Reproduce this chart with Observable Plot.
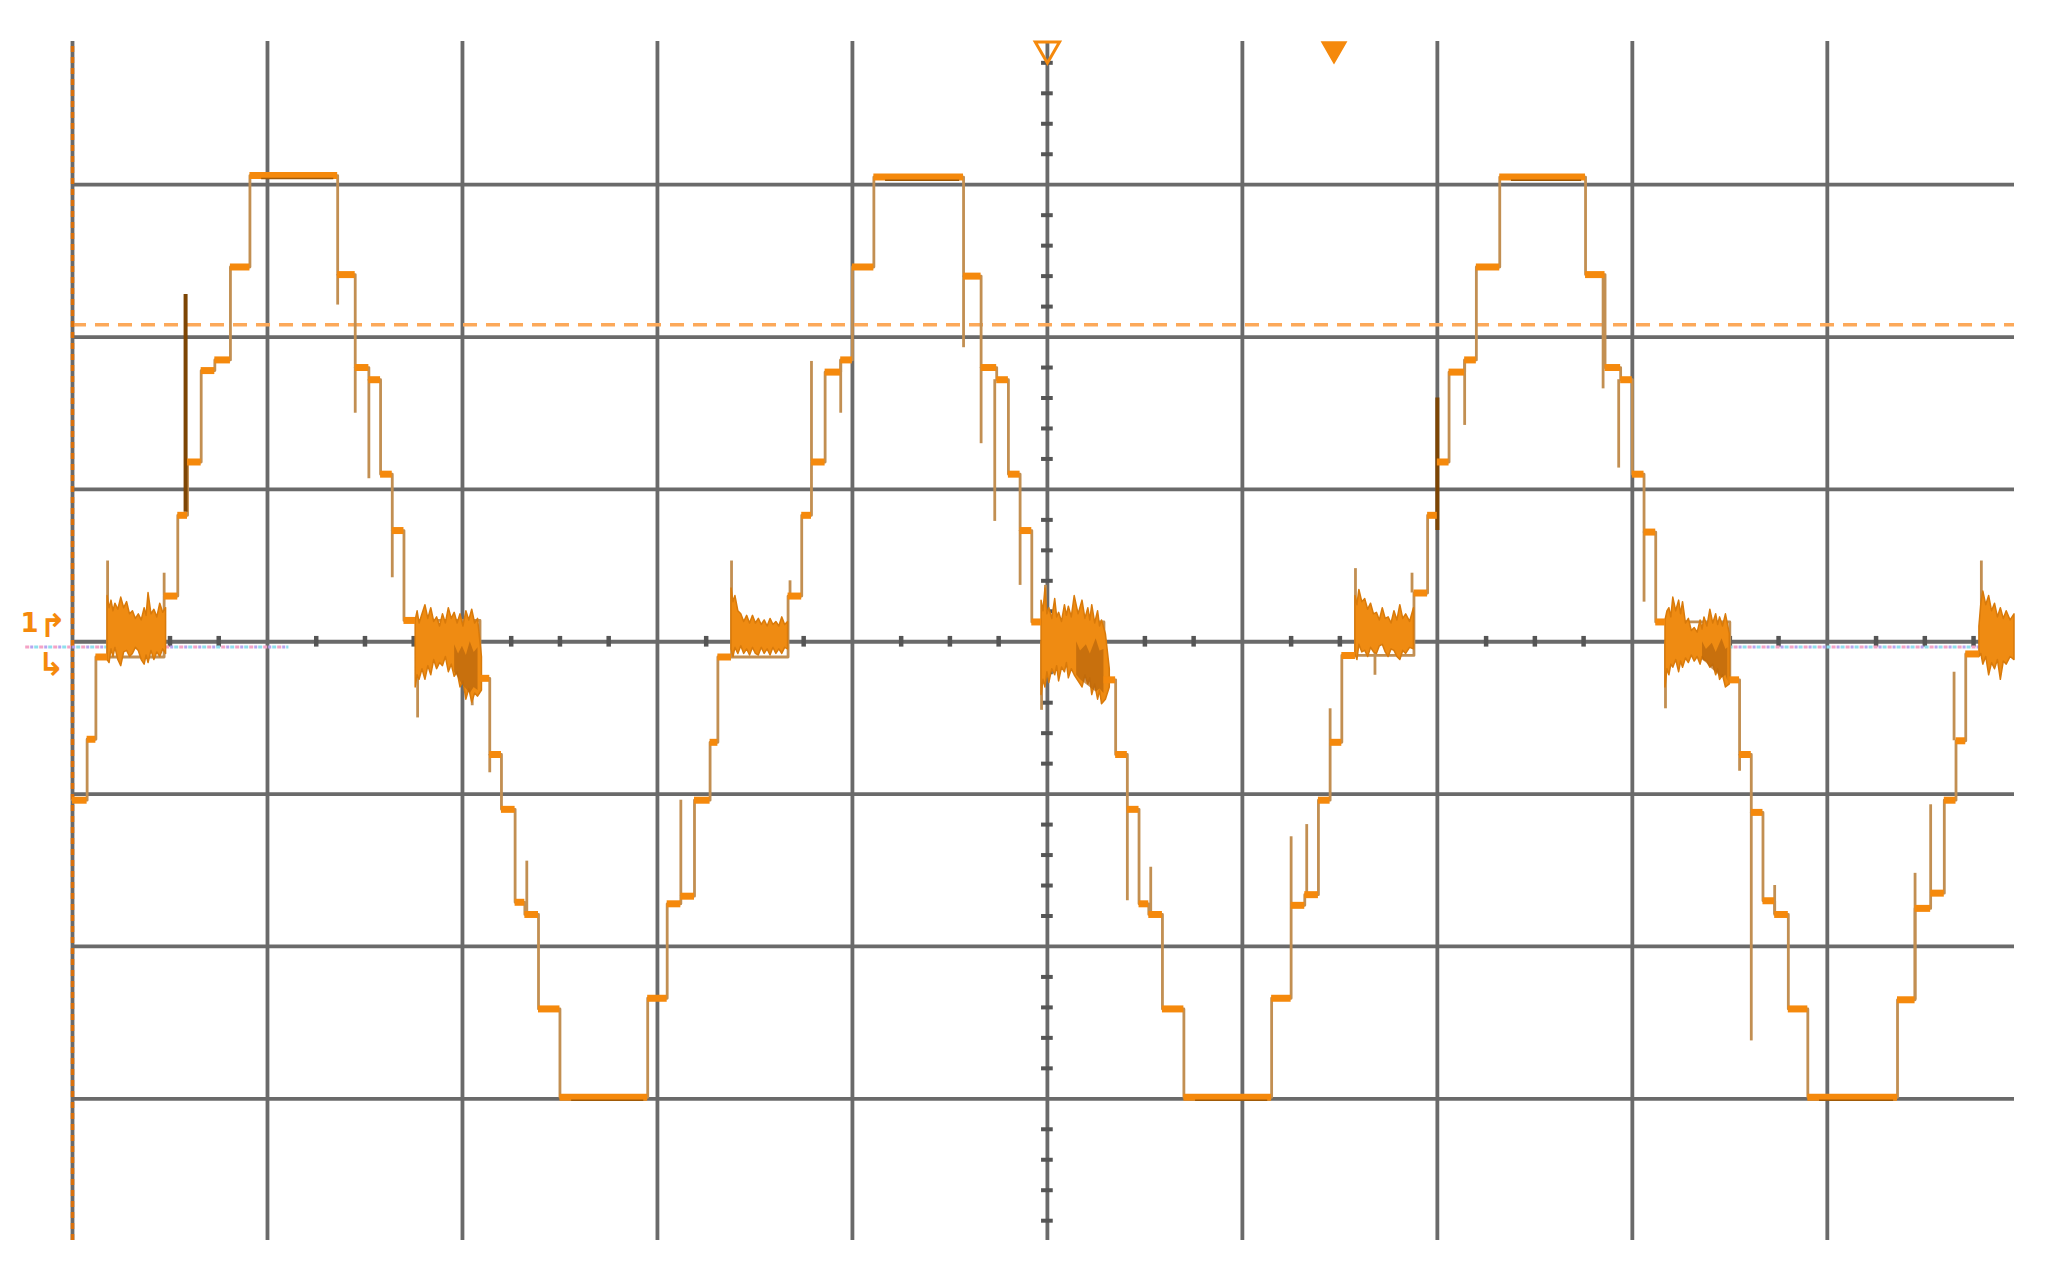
<!DOCTYPE html>
<html><head><meta charset="utf-8">
<script src="https://cdn.jsdelivr.net/npm/d3@7"></script>
<script src="https://cdn.jsdelivr.net/npm/@observablehq/plot@0.6"></script>
<style>html,body{margin:0;padding:0;background:#fff;overflow:hidden}</style>
</head><body><div id="chart"></div>
<script>
// Oscilloscope screen: x in divisions (0..10), y in divisions (-4..4)
const xGridLines = [0,1,2,3,4,5,6,7,8,9];
const yGridLines = [-3,-2,-1,0,1,2,3];
const triggerLevel = 2.08;

// Dwell segments [x start, x end, level] read per half-cycle
const stepsStart = [[0.00,0.075,-1.04],[0.075,0.12,-0.64],[0.12,0.18,-0.10]];
const stepsPos1 = [[0.47,0.54,0.30],[0.54,0.59,0.83],[0.59,0.66,1.18],[0.66,0.73,1.78],[0.73,0.81,1.85],[0.81,0.91,2.46],[0.91,1.36,3.06],[1.36,1.45,2.41],[1.45,1.52,1.80],[1.52,1.58,1.72],[1.58,1.64,1.10],[1.64,1.70,0.73],[1.70,1.76,0.14]];
const stepsNeg1 = [[2.09,2.14,-0.24],[2.14,2.20,-0.74],[2.20,2.27,-1.10],[2.27,2.32,-1.71],[2.32,2.39,-1.79],[2.39,2.50,-2.41],[2.50,2.95,-2.99],[2.95,3.05,-2.34],[3.05,3.12,-1.72],[3.12,3.19,-1.67],[3.19,3.27,-1.04],[3.27,3.31,-0.66],[3.31,3.38,-0.10]];
const stepsPos2 = [[3.67,3.74,0.30],[3.74,3.79,0.83],[3.79,3.86,1.18],[3.86,3.94,1.77],[3.94,4.00,1.85],[4.00,4.11,2.46],[4.11,4.57,3.05],[4.57,4.66,2.40],[4.66,4.74,1.80],[4.74,4.80,1.72],[4.80,4.86,1.10],[4.86,4.92,0.73],[4.92,4.97,0.13]];
const stepsNeg2 = [[5.29,5.35,-0.25],[5.35,5.41,-0.74],[5.41,5.47,-1.10],[5.47,5.52,-1.72],[5.52,5.59,-1.79],[5.59,5.70,-2.41],[5.70,6.15,-2.99],[6.15,6.25,-2.34],[6.25,6.32,-1.73],[6.32,6.39,-1.66],[6.39,6.45,-1.04],[6.45,6.51,-0.66],[6.51,6.58,-0.09]];
const stepsPos3 = [[6.88,6.95,0.32],[6.95,7.00,0.83],[7.00,7.06,1.18],[7.06,7.14,1.77],[7.14,7.20,1.85],[7.20,7.32,2.46],[7.32,7.76,3.05],[7.76,7.86,2.41],[7.86,7.94,1.80],[7.94,8.00,1.72],[8.00,8.06,1.10],[8.06,8.12,0.72],[8.12,8.17,0.13]];
const stepsNeg3 = [[8.50,8.55,-0.25],[8.55,8.61,-0.74],[8.61,8.67,-1.12],[8.67,8.73,-1.70],[8.73,8.80,-1.79],[8.80,8.90,-2.41],[8.90,9.36,-2.99],[9.36,9.45,-2.35],[9.45,9.53,-1.75],[9.53,9.60,-1.65],[9.60,9.66,-1.04],[9.66,9.71,-0.65],[9.71,9.78,-0.08]];

// Noisy bands at the zero crossings [x, top, bottom]
const clusterA = [[0.18,0.30,-0.12],[0.19,0.22,-0.14],[0.20,0.27,-0.05],[0.21,0.20,-0.10],[0.22,0.25,-0.04],[0.235,0.21,-0.12],[0.25,0.29,-0.16],[0.265,0.22,-0.07],[0.28,0.26,-0.06],[0.295,0.18,-0.10],[0.31,0.20,-0.08],[0.325,0.15,-0.04],[0.34,0.18,-0.06],[0.355,0.14,-0.12],[0.37,0.22,-0.15],[0.38,0.17,-0.09],[0.39,0.32,-0.14],[0.405,0.18,-0.06],[0.42,0.21,-0.12],[0.435,0.16,-0.07],[0.45,0.25,-0.10],[0.465,0.19,-0.05],[0.48,0.22,-0.08]];
const clusterB = [[1.76,0.14,-0.30],[1.77,0.20,-0.22],[1.78,0.12,-0.25],[1.795,0.18,-0.18],[1.81,0.24,-0.25],[1.825,0.15,-0.16],[1.84,0.22,-0.22],[1.855,0.13,-0.12],[1.87,0.16,-0.18],[1.885,0.10,-0.14],[1.90,0.18,-0.16],[1.915,0.12,-0.10],[1.93,0.22,-0.20],[1.945,0.15,-0.15],[1.96,0.19,-0.23],[1.975,0.12,-0.20],[1.99,0.18,-0.30],[2.005,0.10,-0.26],[2.02,0.20,-0.38],[2.035,0.14,-0.31],[2.05,0.21,-0.40],[2.065,0.12,-0.34],[2.08,0.15,-0.36],[2.10,-0.10,-0.32]];
const clusterC = [[3.38,0.35,-0.05],[3.39,0.26,-0.10],[3.40,0.30,-0.04],[3.415,0.20,-0.08],[3.43,0.18,-0.03],[3.445,0.13,-0.08],[3.46,0.17,-0.05],[3.475,0.12,-0.09],[3.49,0.17,-0.04],[3.505,0.12,-0.08],[3.52,0.15,-0.09],[3.535,0.11,-0.04],[3.55,0.14,-0.08],[3.565,0.10,-0.05],[3.58,0.15,-0.09],[3.595,0.11,-0.04],[3.61,0.13,-0.08],[3.625,0.10,-0.05],[3.64,0.16,-0.08],[3.655,0.11,-0.04],[3.67,0.13,-0.05]];
const clusterD = [[4.97,0.27,-0.35],[4.98,0.20,-0.25],[4.99,0.35,-0.30],[5.00,0.18,-0.20],[5.01,0.22,-0.27],[5.025,0.15,-0.18],[5.04,0.28,-0.22],[5.05,0.16,-0.16],[5.06,0.19,-0.26],[5.075,0.13,-0.17],[5.09,0.24,-0.20],[5.10,0.17,-0.14],[5.11,0.23,-0.24],[5.125,0.16,-0.18],[5.14,0.30,-0.22],[5.16,0.18,-0.26],[5.18,0.27,-0.30],[5.195,0.15,-0.22],[5.21,0.22,-0.28],[5.22,0.14,-0.24],[5.23,0.24,-0.35],[5.245,0.12,-0.28],[5.26,0.20,-0.38],[5.27,0.10,-0.32],[5.28,0.14,-0.41],[5.30,0.05,-0.38],[5.32,-0.18,-0.30]];
const clusterE = [[6.58,0.30,-0.08],[6.59,0.24,-0.12],[6.60,0.34,-0.02],[6.615,0.26,-0.07],[6.63,0.28,-0.06],[6.645,0.21,-0.10],[6.66,0.25,-0.04],[6.675,0.18,-0.07],[6.69,0.19,-0.08],[6.705,0.14,-0.03],[6.72,0.22,-0.02],[6.735,0.15,-0.07],[6.75,0.16,-0.10],[6.765,0.12,-0.05],[6.78,0.20,-0.06],[6.795,0.14,-0.10],[6.81,0.24,-0.12],[6.825,0.15,-0.06],[6.84,0.18,-0.08],[6.86,0.13,-0.04],[6.88,0.22,-0.05]];
const clusterF = [[8.17,0.14,-0.30],[8.18,0.20,-0.18],[8.19,0.22,-0.22],[8.20,0.16,-0.15],[8.21,0.29,-0.17],[8.225,0.20,-0.12],[8.24,0.27,-0.20],[8.25,0.18,-0.13],[8.26,0.26,-0.17],[8.275,0.12,-0.11],[8.29,0.15,-0.14],[8.305,0.07,-0.09],[8.32,0.09,-0.13],[8.335,0.06,-0.10],[8.35,0.14,-0.15],[8.36,0.08,-0.10],[8.37,0.16,-0.12],[8.385,0.10,-0.13],[8.40,0.21,-0.17],[8.415,0.12,-0.15],[8.43,0.18,-0.22],[8.44,0.11,-0.18],[8.45,0.16,-0.25],[8.465,0.10,-0.22],[8.48,0.18,-0.30],[8.50,0.05,-0.28]];
const clusterG = [[9.78,0.10,-0.10],[9.79,0.25,-0.08],[9.80,0.33,-0.15],[9.815,0.24,-0.10],[9.83,0.30,-0.22],[9.845,0.20,-0.14],[9.86,0.25,-0.18],[9.875,0.16,-0.12],[9.89,0.22,-0.25],[9.905,0.15,-0.13],[9.92,0.20,-0.15],[9.94,0.14,-0.10],[9.96,0.18,-0.12]];
// darker cores of the falling crossings [x, top, bottom]
const coreB = [[1.96,-0.02,-0.20],[1.98,-0.08,-0.24],[2.00,-0.03,-0.28],[2.02,-0.09,-0.31],[2.04,0.00,-0.34],[2.06,-0.07,-0.30],[2.08,-0.04,-0.32]];
const coreD = [[5.15,0.00,-0.22],[5.17,-0.06,-0.25],[5.20,-0.02,-0.28],[5.22,-0.08,-0.30],[5.25,0.02,-0.33],[5.27,-0.06,-0.31],[5.29,-0.05,-0.34]];
const coreF = [[8.36,0.00,-0.12],[8.38,-0.05,-0.14],[8.41,-0.01,-0.18],[8.43,-0.07,-0.20],[8.46,0.02,-0.24],[8.48,-0.05,-0.22],[8.49,-0.04,-0.26]];

// Switching spikes [x, from, to]
const spikes = [[0.18,-0.10,0.53],[0.47,0.30,0.45],[1.36,2.41,2.21],[1.45,1.80,1.50],[1.52,1.72,1.07],[1.64,0.73,0.42],[1.77,0.00,-0.50],[2.05,-0.2,-0.42],[2.14,-0.74,-0.86],[2.33,-1.79,-1.44],[3.12,-1.67,-1.04],
  [3.38,-0.10,0.53],[3.68,0.30,0.40],[3.79,1.18,1.84],[3.94,1.85,1.50],[4.57,2.40,1.93],[4.66,1.80,1.30],[4.73,1.72,0.79],[4.86,0.73,0.37],[4.97,0.00,-0.45],[4.99,0.0,0.37],
  [5.41,-1.10,-1.70],[5.53,-1.79,-1.48],[6.25,-1.73,-1.28],[6.33,-1.66,-1.20],[6.45,-0.66,-0.44],
  [6.58,-0.09,0.48],[6.68,0.0,-0.22],[6.87,0.32,0.45],[7.14,1.85,1.42],[7.85,2.41,1.66],[7.93,1.72,1.14],[8.06,0.72,0.26],[8.17,0.00,-0.44],
  [8.55,-0.74,-0.85],[8.61,-1.12,-2.62],[8.73,-1.79,-1.60],[9.45,-2.35,-1.52],[9.53,-1.65,-1.07],[9.65,-0.65,-0.20],[9.79,-0.08,0.53]];
const darkSpikes = [[0.58,0.85,2.28],[7.00,0.73,1.60]];

const xMax = 9.96, yMin = -3.93, yMax = 3.94;

const segs = [...stepsStart, ...stepsPos1, ...stepsNeg1, ...stepsPos2, ...stepsNeg2, ...stepsPos3, ...stepsNeg3];
const tracePts = segs.flatMap(([a,b,v]) => [{x:a,y:v},{x:b,y:v}]);
const clusters = [clusterA,clusterB,clusterC,clusterD,clusterE,clusterF,clusterG];
const clusterRows = clusters.flatMap((c,i) => c.map(([x,t,b]) => ({x,t,b,k:i})));
const coreRows = [coreB,coreD,coreF].flatMap((c,i) => c.map(([x,t,b]) => ({x,t,b,k:i})));

const minorX = d3.range(0, xMax, 0.25).filter(v => Math.abs(v - Math.round(v)) > 1e-6);
const minorY = d3.range(-3.8, 3.9, 0.2).filter(v => Math.abs(v - Math.round(v)) > 1e-6);
const groundRuns = [[-0.24,1.11],[8.45,9.96]];

const orange = "#f5890c", tan = "#c28f52";

const chart = Plot.plot({
  width: 2051, height: 1273,
  marginLeft: 72, marginRight: 37, marginTop: 41, marginBottom: 33,
  x: {domain: [0, xMax], axis: null},
  y: {domain: [yMin, yMax], axis: null},
  style: {background: "#fff"},
  marks: [
    Plot.ruleX(xGridLines, {y1: yMin, y2: yMax, stroke: "#6a6a6a", strokeWidth: 3.8}),
    Plot.ruleY(yGridLines, {x1: 0, x2: xMax, stroke: "#6a6a6a", strokeWidth: 3.8}),
    Plot.ruleY(minorY, {x1: 5 - 0.03, x2: 5 + 0.03, y: d => d, stroke: "#555", strokeWidth: 4}),
    Plot.ruleX(minorX, {y1: -0.035, y2: 0.035, x: d => d, stroke: "#555", strokeWidth: 4.5}),
    Plot.ruleY([triggerLevel], {x1: 0, x2: xMax, stroke: "#fca95a", strokeWidth: 3.5, strokeDasharray: "14,9"}),
    Plot.ruleX([0], {y1: yMin, y2: yMax, stroke: "#d9700c", strokeWidth: 3.5, strokeDasharray: "6,5"}),
    Plot.ruleY(groundRuns, {x1: d => d[0], x2: d => d[1], y: -0.035, stroke: "#f4a3c6", strokeWidth: 3, strokeDasharray: "4,10"}),
    Plot.ruleY(groundRuns, {x1: d => d[0], x2: d => d[1], y: -0.035, stroke: "#8fdfee", strokeWidth: 3, strokeDasharray: "4,10", strokeDashoffset: 5}),
    Plot.ruleY(groundRuns, {x1: d => d[0], x2: d => d[1], y: -0.035, stroke: "#b7a4ef", strokeWidth: 3, strokeDasharray: "3,11", strokeDashoffset: 9}),
    Plot.line(tracePts, {x: "x", y: "y", curve: "step-after", stroke: tan, strokeWidth: 2.8}),
    Plot.ruleX(spikes, {x: d => d[0], y1: d => d[1], y2: d => d[2], stroke: tan, strokeWidth: 2.8}),
    Plot.ruleX(darkSpikes, {x: d => d[0], y1: d => d[1], y2: d => d[2], stroke: "#7d4504", strokeWidth: 4}),
    Plot.areaY(clusterRows, {x: "x", y1: "b", y2: "t", z: "k", fill: "#ef8b12", stroke: "#d97a0a", strokeWidth: 1.5, curve: "linear"}),
    Plot.areaY(coreRows, {x: "x", y1: "b", y2: "t", z: "k", fill: "#b8650c", fillOpacity: 0.7}),
    Plot.ruleY(segs, {x1: d => d[0], x2: d => d[1], y: d => d[2], stroke: orange, strokeWidth: 7}),
    Plot.ruleY(segs.filter(d => d[1] - d[0] > 0.3), {x1: d => d[0] + 0.06, x2: d => d[1] - 0.02, y: d => d[2] - 0.02, stroke: "#a05a08", strokeWidth: 1.5}),
    Plot.dot([{x: 5, y: 3.89}], {x: "x", y: "y", symbol: "triangle", rotate: 180, r: 9, fill: "none", stroke: orange, strokeWidth: 3}),
    Plot.dot([{x: 6.47, y: 3.89}], {x: "x", y: "y", symbol: "triangle", rotate: 180, r: 9, fill: orange, stroke: orange}),
    Plot.text(["1"], {x: -0.22, y: 0.12, fill: orange, fontSize: 26, fontWeight: "bold", fontFamily: "DejaVu Sans"}),
    Plot.text(["↱"], {x: -0.1, y: 0.10, fill: orange, fontSize: 32, fontWeight: "bold", fontFamily: "DejaVu Sans"}),
    Plot.text(["↳"], {x: -0.11, y: -0.15, fill: orange, fontSize: 32, fontWeight: "bold", fontFamily: "DejaVu Sans"})
  ]
});
document.getElementById("chart").append(chart);
</script></body></html>
